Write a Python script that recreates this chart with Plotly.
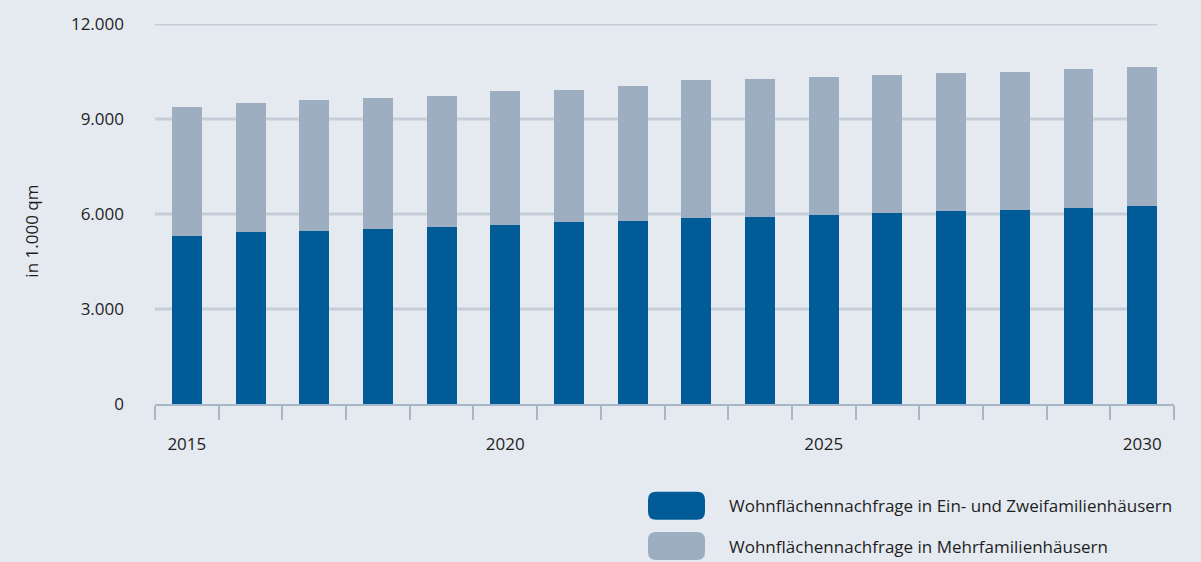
import plotly.graph_objects as go

years = list(range(2015, 2031))
ein_zwei = [5300, 5430, 5460, 5530, 5590, 5650, 5740, 5780, 5860, 5900, 5960, 6020, 6080, 6140, 6180, 6240]
mehr = [4090, 4080, 4150, 4140, 4150, 4240, 4180, 4260, 4370, 4360, 4360, 4370, 4360, 4340, 4390, 4400]
y_ticks = [0, 3000, 6000, 9000, 12000]
x_label_years = [2015, 2020, 2025, 2030]
legend_names = ["Wohnflächennachfrage in Ein- und Zweifamilienhäusern",
                "Wohnflächennachfrage in Mehrfamilienhäusern"]

DARK = "#015B96"
LIGHT = "#9DAEC1"
BG = "#E5EAF1"
GRID = "#C4CDD8"
AXIS = "#A8B7C8"
TXT = "#1E1E1E"
FONT = "Open Sans"
FS = 17

fig = go.Figure()
fig.add_trace(go.Bar(x=years, y=ein_zwei, name=legend_names[0], marker=dict(color=DARK, line=dict(width=0))))
fig.add_trace(go.Bar(x=years, y=mehr, name=legend_names[1], marker=dict(color=LIGHT, line=dict(width=0))))

W, H = 1201, 562
L, R, T, B = 155, 27, 16, 158
pw, ph = W - L - R, H - T - B

def px_x(p):
    return (p - L) / pw

def px_y(p):
    return (H - B - p) / ph

# gridlines
for v in y_ticks[1:]:
    fig.add_shape(type="line", xref="paper", yref="y", x0=0, x1=px_x(1157), y0=v, y1=v,
                  line=dict(color=GRID, width=3), layer="below")

# legend
for i, (name, col) in enumerate(zip(legend_names, [DARK, LIGHT])):
    cy = [508, 549][i]
    r = 8
    w2, h2 = 28.5, 14
    path = (f"M {-w2+r},{-h2} L {w2-r},{-h2} Q {w2},{-h2} {w2},{-h2+r} L {w2},{h2-r} Q {w2},{h2} {w2-r},{h2} "
            f"L {-w2+r},{h2} Q {-w2},{h2} {-w2},{h2-r} L {-w2},{-h2+r} Q {-w2},{-h2} {-w2+r},{-h2} Z")
    fig.add_shape(type="path", xref="paper", yref="paper", xsizemode="pixel", ysizemode="pixel",
                  xanchor=px_x(676.5), yanchor=px_y(cy), path=path,
                  fillcolor=col, line=dict(width=0))
    fig.add_annotation(xref="paper", yref="paper", x=px_x(727), y=px_y(cy), text=name,
                       showarrow=False, xanchor="left", yanchor="middle",
                       font=dict(family=FONT, size=FS, color=TXT))

fig.add_annotation(xref="paper", yref="paper", x=px_x(32), y=px_y(228), text="in 1.000 qm",
                   textangle=-90, showarrow=False, xanchor="center", yanchor="middle",
                   font=dict(family=FONT, size=FS, color=TXT))

fig.update_layout(
    width=W, height=H,
    margin=dict(l=L, r=R, t=T, b=B, pad=0),
    paper_bgcolor=BG, plot_bgcolor=BG,
    barmode="stack", bargap=0.53,
    showlegend=False,
    separators=",.",
    font=dict(family=FONT, size=FS, color=TXT),
    xaxis=dict(
        range=[years[0] - 0.5, years[-1] + 0.5],
        tickmode="array", tickvals=x_label_years, ticktext=[str(y) for y in x_label_years],
        ticks="", showgrid=False, zeroline=False,
        showline=True, linecolor=AXIS, linewidth=2,
        ticklabelstandoff=24,
        minor=dict(tickmode="array", tickvals=[y - 0.5 for y in years] + [years[-1] + 0.5],
                   ticks="outside", ticklen=14, tickwidth=2, tickcolor=AXIS, showgrid=False),
        tickfont=dict(family=FONT, size=FS, color=TXT),
    ),
    yaxis=dict(
        range=[0, 12000], tickmode="array", tickvals=y_ticks,
        tickformat=",d", showgrid=False, zeroline=False, showline=False, ticks="",
        ticklabelstandoff=30,
        tickfont=dict(family=FONT, size=FS, color=TXT),
    ),
)

fig.write_html("out.html", config={"displayModeBar": False},
               post_script="document.body.style.margin='0';document.body.style.overflow='hidden';")
